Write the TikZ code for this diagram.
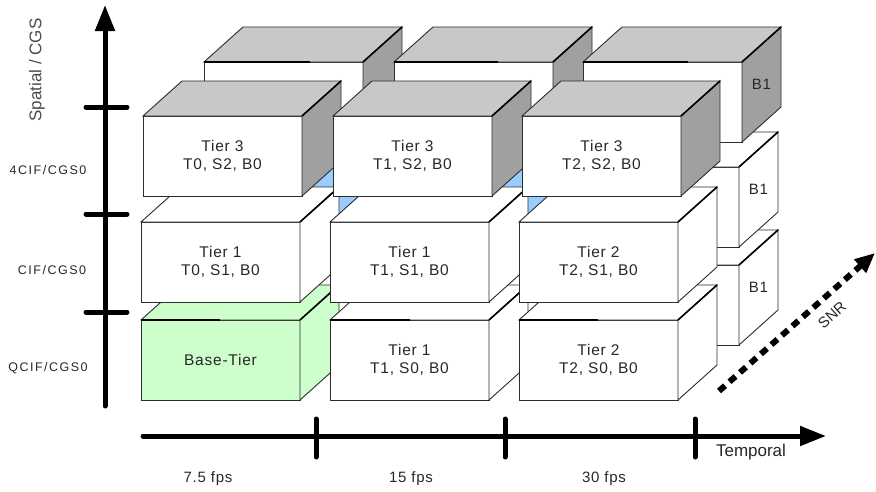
\documentclass[tikz,border=0pt]{standalone}
\usepackage{fontspec}
\setmainfont{Liberation Sans}
\newfontfamily\tierfont[LetterSpace=5]{Liberation Sans}
\newfontfamily\axfont[LetterSpace=12]{Liberation Sans}
\usetikzlibrary{arrows.meta}
\definecolor{topgray}{RGB}{200,200,200}
\definecolor{sidegray}{RGB}{160,160,160}
\definecolor{basegreen}{RGB}{204,255,204}
\definecolor{layerblue}{RGB}{153,204,255}
\definecolor{edgecol}{RGB}{45,45,45}
\definecolor{txt}{RGB}{40,40,40}
\tikzset{
  boxedge/.style={draw=edgecol, line width=0.9pt, line join=miter},
  tier/.style={align=center, text=txt, font=\tierfont\fontsize{15.5}{18}\selectfont, inner sep=0pt},
  blabel/.style={text=txt, font=\tierfont\fontsize{15}{18}\selectfont, inner sep=0pt},
  axlabel/.style={text=txt, font=\axfont\fontsize{12.5}{15}\selectfont, inner sep=0pt},
  biglabel/.style={text=txt, font=\fontsize{17}{20}\selectfont, inner sep=0pt},
  fpslabel/.style={text=txt, font=\tierfont\fontsize{15}{17}\selectfont, inner sep=0pt},
  axisline/.style={line width=5pt, black, line cap=round},
  ticklin/.style={line width=5pt, black, line cap=round},
}
\newcommand\cubebox[6]{%
  \filldraw[boxedge, fill=#4] (#2,#3) rectangle ++(159,80);
  \filldraw[boxedge, fill=#5] (#2,#3) -- ++(39,-35) -- ++(159,0) -- ++(-39,35) -- cycle;
  \filldraw[boxedge, fill=#6] (#2+159,#3) -- ++(39,-35) -- ++(0,80) -- ++(-39,35) -- cycle;
  \draw[draw=black, line width=1.6pt] (#2+159,#3) -- ++(39,-35);
  \coordinate (#1-f) at (#2+79.5,#3+40);
  \coordinate (#1-r) at (#2+178.5,#3+22.5);
}
\begin{document}
\begin{tikzpicture}[x=1pt,y=-1pt]
\useasboundingbox (0,0) rectangle (876,491);
\fill[white] (0,0) rectangle (876,491);

% ---- back layer (B1) ----
\cubebox{q1a}{202}{265}{white}{white}{white}
\cubebox{q1b}{391}{265}{white}{white}{white}
\cubebox{q1c}{580}{265}{white}{white}{white}
\cubebox{c1a}{202}{167}{layerblue}{white}{white}
\cubebox{c1b}{391}{167}{layerblue}{white}{white}
\cubebox{c1c}{580}{167}{white}{white}{white}
\cubebox{f1a}{204}{62}{white}{topgray}{sidegray}
\draw[black, line width=2pt] (204,62) -- ++(106,0);
\cubebox{f1b}{394}{62}{white}{topgray}{sidegray}
\draw[black, line width=2pt] (394,62) -- ++(104,0);
\cubebox{f1c}{583}{62}{white}{topgray}{sidegray}
\draw[black, line width=2pt] (583,62) -- ++(105,0);
\node[blabel] (lb1top) at (f1c-r) {B1};
\node[blabel] (lb1mid) at (c1c-r) {B1};
\node[blabel] (lb1bot) at (q1c-r) {B1};

% ---- front layer (B0) ----
\cubebox{q0a}{141}{320}{basegreen}{basegreen}{basegreen}
\draw[black, line width=2pt] (141,320) -- ++(79,0);
\cubebox{q0b}{330}{320}{white}{white}{white}
\draw[black, line width=2pt] (330,320) -- ++(80,0);
\cubebox{q0c}{519}{320}{white}{white}{white}
\draw[black, line width=2pt] (519,320) -- ++(79,0);
\cubebox{c0a}{141}{222}{white}{white}{white}
\cubebox{c0b}{330}{222}{white}{white}{white}
\cubebox{c0c}{519}{222}{white}{white}{white}
\cubebox{f0a}{143}{116}{white}{topgray}{sidegray}
\cubebox{f0b}{333}{116}{white}{topgray}{sidegray}
\cubebox{f0c}{522}{116}{white}{topgray}{sidegray}

\node[tier] (tbase) at (q0a-f) {Base-Tier};
\node[tier] (tq1) at (q0b-f) {Tier 1\\T1, S0, B0};
\node[tier] (tq2) at (q0c-f) {Tier 2\\T2, S0, B0};
\node[tier] (tc0) at (c0a-f) {Tier 1\\T0, S1, B0};
\node[tier] (tc1) at (c0b-f) {Tier 1\\T1, S1, B0};
\node[tier] (tc2) at (c0c-f) {Tier 2\\T2, S1, B0};
\node[tier] (tf0) at (f0a-f) {Tier 3\\T0, S2, B0};
\node[tier] (tf1) at (f0b-f) {Tier 3\\T1, S2, B0};
\node[tier] (tf2) at (f0c-f) {Tier 3\\T2, S2, B0};

% ---- vertical axis ----
\coordinate (vbot) at (105,406);
\coordinate (vtop) at (105,5);
\draw[axisline, -{Triangle[length=26pt,width=19pt]}] (vbot) -- (vtop);
\foreach \yy/\nm in {107/v1,214/v2,312/v3}{
  \coordinate (\nm l) at (86,\yy);
  \coordinate (\nm r) at (127,\yy);
  \draw[ticklin] (\nm l) -- (\nm r);
}
\node[biglabel, rotate=90, text=black!70] (spatial) at (37,70) {Spatial / CGS};
\node[axlabel] (l4cif) at (48,170) {4CIF/CGS0};
\node[axlabel] (lcif) at (52,270) {CIF/CGS0};
\node[axlabel] (lqcif) at (48,368) {QCIF/CGS0};

% ---- horizontal axis ----
\coordinate (hl) at (143,436);
\coordinate (hr) at (826,436);
\draw[axisline, -{Triangle[length=26pt,width=19pt]}] (hl) -- (hr);
\foreach \xx/\nm in {316/h1,505/h2,695/h3}{
  \coordinate (\nm t) at (\xx,419);
  \coordinate (\nm b) at (\xx,457);
  \draw[ticklin] (\nm t) -- (\nm b);
}
\node[biglabel] (temporal) at (751,452) {Temporal};
\node[fpslabel] (f75) at (208,479) {7.5 fps};
\node[fpslabel] (f15) at (411,479) {15 fps};
\node[fpslabel] (f30) at (604,479) {30 fps};

% ---- SNR axis ----
\coordinate (sa) at (719,391);
\coordinate (sb) at (875,253);
\draw[line width=6pt, black, dash pattern=on 8pt off 6pt, -{Triangle[length=20pt,width=17pt]}] (sa) -- (sb);
\node[rotate=41.5, text=txt, font=\fontsize{15}{18}\selectfont, inner sep=0pt] (snr) at (832,315) {SNR};
\end{tikzpicture}
\end{document}
